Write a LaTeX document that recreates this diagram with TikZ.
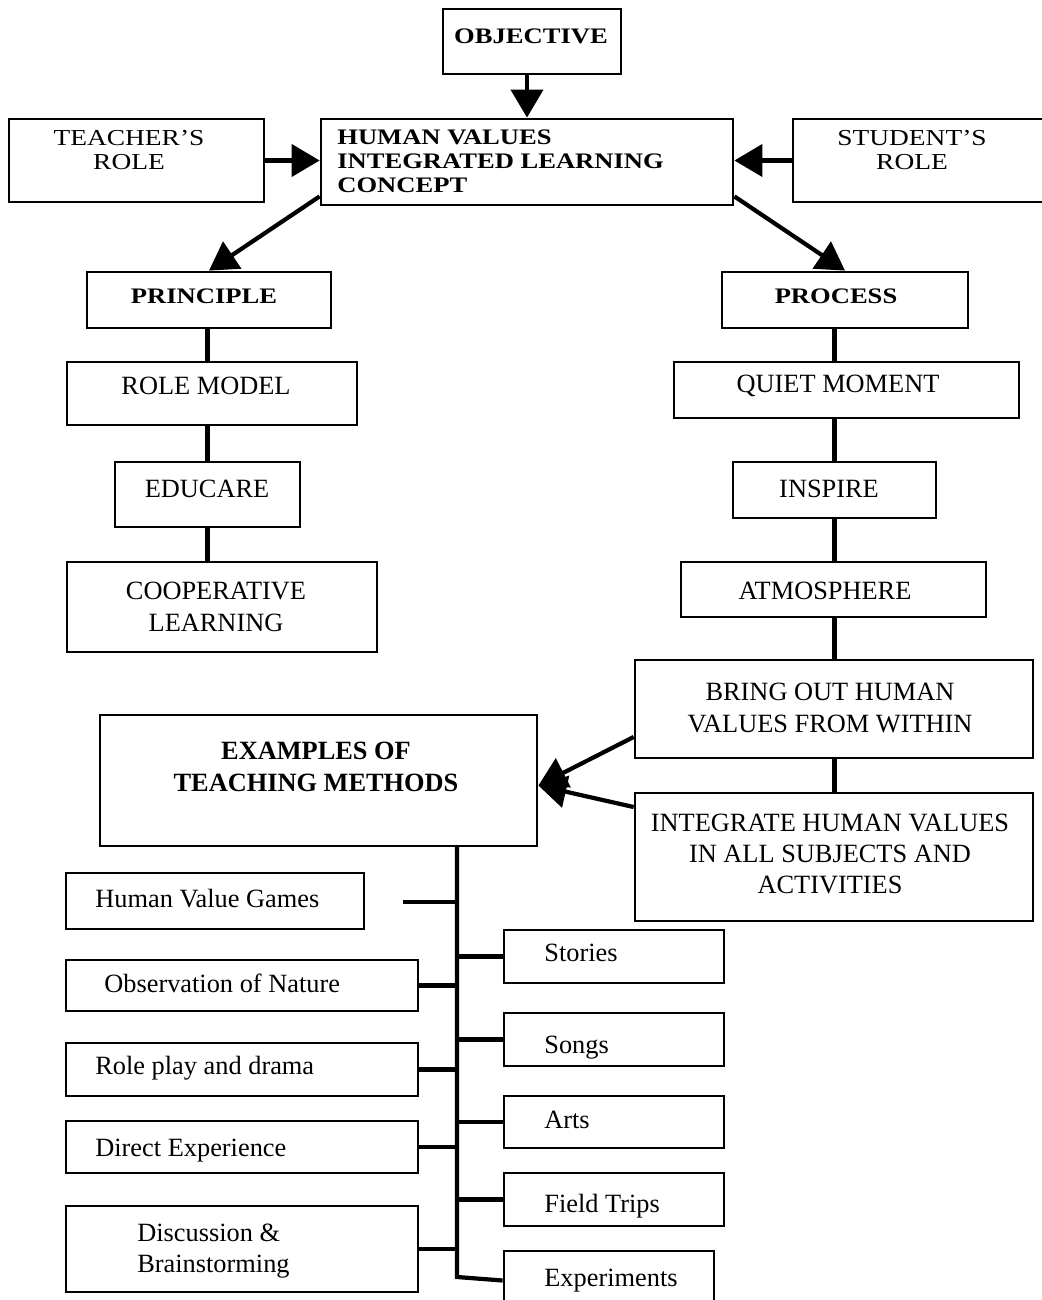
\documentclass[tikz,border=0pt]{standalone}
\usepackage{fontspec}
\setmainfont{Liberation Serif}
\newfontfamily\widefont{Liberation Serif}[FakeStretch=1.2]
\usepackage{tikz}
\usetikzlibrary{arrows.meta}

\tikzset{
	box/.style={shape=rectangle, draw, line width=1.6pt},
	link/.style={line width=2.4pt},
	arr/.style={line width=2.4pt, -{Triangle[length=0.56cm, width=0.64cm]}},
	txt/.style={font=\fontsize{15}{17.8}\selectfont, align=center, inner sep=0pt},
	boldtxt/.style={txt, font=\bfseries\fontsize{15}{17.8}\selectfont},
	widetxt/.style={font=\widefont\fontsize{13}{13.8}\selectfont, align=center, inner sep=0pt},
	widebold/.style={widetxt, font=\widefont\bfseries\fontsize{12.6}{13.6}\selectfont},
}

\begin{document}
\begin{tikzpicture}[x=0.02cm, y=-0.02cm]
	\useasboundingbox (0,0) rectangle (1041,1300);
	% Boxes and texts, top part:
	\node[box, minimum width=3.56cm, minimum height=1.3cm](Obj) at (532, 41.5){} node[widebold](ObjT) at (531, 36){OBJECTIVE};
	\node[box, minimum width=8.24cm, minimum height=1.72cm](HV) at (527, 162){} node[widebold, align=left, anchor=west](HVT) at (337, 161){HUMAN VALUES\\INTEGRATED LEARNING\\CONCEPT};
	\node[box, minimum width=5.1cm, minimum height=1.66cm](Teach) at (136.5, 160.5){} node[widetxt](TeachT) at (129, 150){TEACHER’S\\ROLE};
	\node[box, minimum width=5.34cm, minimum height=1.66cm](Stud) at (926.5, 160.5){} node[widetxt](StudT) at (912, 150){STUDENT’S\\ROLE};
	\node[box, minimum width=4.88cm, minimum height=1.12cm](Prin) at (209, 300){} node[widebold](PrinT) at (204, 296){PRINCIPLE};
	\node[box, minimum width=4.92cm, minimum height=1.12cm](Proc) at (845, 300){} node[widebold](ProcT) at (836, 296){PROCESS};
	% Left column:
	\node[box, minimum width=5.8cm, minimum height=1.26cm](Role) at (212, 393.5){} node[txt](RoleT) at (206, 386){ROLE MODEL};
	\node[box, minimum width=3.7cm, minimum height=1.3cm](Edu) at (207.5, 494.5){} node[txt](EduT) at (207, 489){EDUCARE};
	\node[box, minimum width=6.2cm, minimum height=1.8cm](Coop) at (222, 607){} node[txt](CoopT) at (216, 607){COOPERATIVE\\LEARNING};
	% Right column:
	\node[box, minimum width=6.9cm, minimum height=1.12cm](Quiet) at (846.5, 390){} node[txt](QuietT) at (838, 386){QUIET MOMENT};
	\node[box, minimum width=4.06cm, minimum height=1.12cm](Insp) at (834.5, 490){} node[txt](InspT) at (829, 489){INSPIRE};
	\node[box, minimum width=6.1cm, minimum height=1.1cm](Atmo) at (833.5, 589.5){} node[txt](AtmoT) at (825, 591){ATMOSPHERE};
	\node[box, minimum width=7.96cm, minimum height=1.96cm](Bring) at (834, 709){} node[txt](BringT) at (830, 708){BRING OUT HUMAN\\VALUES FROM WITHIN};
	\node[box, minimum width=7.96cm, minimum height=2.56cm](Integ) at (834, 857){} node[txt](IntegT) at (830, 854){INTEGRATE HUMAN VALUES\\IN ALL SUBJECTS AND\\ACTIVITIES};
	% Teaching methods:
	\node[box, minimum width=8.74cm, minimum height=2.62cm](Ex) at (318.5, 780.5){} node[boldtxt](ExT) at (316, 767){EXAMPLES OF\\TEACHING METHODS};
	\node[box, minimum width=5.96cm, minimum height=1.12cm](Hvg) at (215, 901){} node[txt, anchor=west](HvgT) at (95, 899){Human Value Games};
	\node[box, minimum width=7.04cm, minimum height=1.02cm](Obs) at (242, 985.5){} node[txt, anchor=west](ObsT) at (104, 983){Observation of Nature};
	\node[box, minimum width=7.04cm, minimum height=1.06cm](Play) at (242, 1069.5){} node[txt, anchor=west](PlayT) at (95, 1068){Role play and drama};
	\node[box, minimum width=7.04cm, minimum height=1.04cm](Dir) at (242, 1147){} node[txt, anchor=west](DirT) at (95, 1151){Direct Experience};
	\node[box, minimum width=7.04cm, minimum height=1.72cm](Disc) at (242, 1249){} node[txt, align=left, anchor=west](DiscT) at (137, 1251){Discussion \&\\Brainstorming};
	\node[box, minimum width=4.4cm, minimum height=1.06cm](Stor) at (614, 956.5){} node[txt, anchor=west](StorT) at (544, 953){Stories};
	\node[box, minimum width=4.4cm, minimum height=1.06cm](Song) at (614, 1039.5){} node[txt, anchor=west](SongT) at (544, 1048){Songs};
	\node[box, minimum width=4.4cm, minimum height=1.04cm](Arts) at (614, 1122){} node[txt, anchor=west](ArtsT) at (544, 1120){Arts};
	\node[box, minimum width=4.4cm, minimum height=1.06cm](Trip) at (614, 1199.5){} node[txt, anchor=west](TripT) at (544, 1206){Field Trips};
	\node[box, minimum width=4.2cm, minimum height=1.18cm](Exp) at (609, 1280.5){} node[txt, anchor=west](ExpT) at (544, 1281){Experiments};
	% Arrows:
	\draw[arr] (HV.north |- Obj.south) -- (HV.north);
	\draw[arr] (Teach.east) -- (Teach.east -| HV.west);
	\draw[arr] (Stud.west) -- (Stud.west -| HV.east);
	\draw[arr] ([yshift=0.2cm]HV.south west) -- (Prin.north);
	\draw[arr] ([yshift=0.2cm]HV.south east) -- (Proc.north);
	\draw[arr] ([yshift=-0.56cm]Bring.west) -- ([yshift=-0.1cm]Ex.east);
	\draw[arr] ([yshift=1cm]Integ.west) -- ([yshift=-0.1cm]Ex.east);
	% Plain links:
	\draw[link] (Prin.south -| Edu) -- (Role.north -| Edu);
	\draw[link] (Role.south -| Edu) -- (Edu.north);
	\draw[link] (Edu.south) -- (Coop.north -| Edu);
	\draw[link] (Proc.south -| Insp) -- (Quiet.north -| Insp);
	\draw[link] (Quiet.south -| Insp) -- (Insp.north);
	\draw[link] (Insp.south) -- (Atmo.north -| Insp);
	\draw[link] (Atmo.south -| Insp) -- (Bring.north -| Insp);
	\draw[link] (Bring.south -| Insp) -- (Integ.north -| Insp);
	% Trunk under the examples:
	\coordinate (TrunkTop) at (457, 846);
	\coordinate (TrunkBot) at (457, 1277);
	\coordinate (HvgEnd) at (403, 902);
	\draw[link] (TrunkTop) -- (TrunkBot) -- (Exp.west);
	\draw[link] (HvgEnd) -- (HvgEnd -| TrunkTop);
	\draw[link] (Obs.east) -- (Obs.east -| TrunkTop);
	\draw[link] (Play.east) -- (Play.east -| TrunkTop);
	\draw[link] (Dir.east) -- (Dir.east -| TrunkTop);
	\draw[link] (Disc.east) -- (Disc.east -| TrunkTop);
	\draw[link] (Stor.west -| TrunkTop) -- (Stor.west);
	\draw[link] (Song.west -| TrunkTop) -- (Song.west);
	\draw[link] (Arts.west -| TrunkTop) -- (Arts.west);
	\draw[link] (Trip.west -| TrunkTop) -- (Trip.west);
\end{tikzpicture}
\end{document}
